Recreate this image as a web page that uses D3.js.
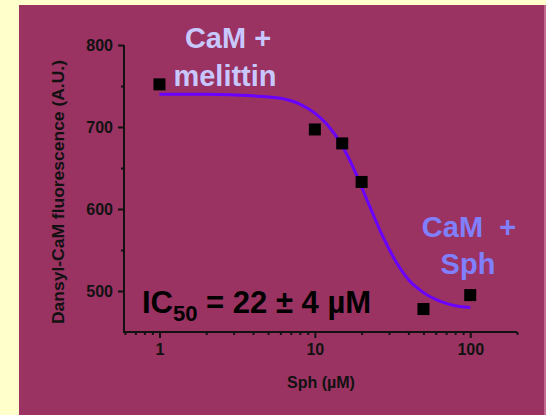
<!DOCTYPE html>
<html>
<head>
<meta charset="utf-8">
<script src="https://cdn.jsdelivr.net/npm/d3@7"></script>
<style>
  html, body { margin: 0; padding: 0; background: #ffffcc; }
  svg { display: block; }
  text { font-family: "Liberation Sans", Arial, sans-serif; font-weight: bold; }
</style>
</head>
<body>
<svg id="chart" width="546" height="415"></svg>
<script>
// Measured dansyl-CaM fluorescence vs. sphingosine concentration
const sphConc = [1, 10, 15, 20, 50, 100];
const fluorescence = [752, 697, 680, 633, 478, 495];

// Fitted dose-response curve (IC50 = 22 µM)
const fitConc = [1, 2, 4, 6, 8, 10, 12, 15, 18, 22, 27, 33, 40, 50, 65, 80, 100];
const fitValue = [740, 740, 738, 735, 728, 717, 703, 677, 647, 608, 569, 537, 514, 498, 487, 482, 480];

const xTickValues = [1, 10, 100];
const yTickValues = [500, 600, 700, 800];

const svg = d3.select("#chart");

// Background panel
svg.append("rect").attr("x", 19).attr("y", 5).attr("width", 525).attr("height", 410)
  .attr("fill", "#9a3362");
svg.append("rect").attr("x", 544).attr("y", 5).attr("width", 2).attr("height", 410)
  .attr("fill", "#c06a90");

const x = d3.scaleLog().domain([0.6, 200]).range([125, 517]);
const y = d3.scaleLinear().domain([450, 800]).range([332, 45]);

const axisColor = "#111";

// X axis with log minor ticks
const xMinor = [];
[0.1, 1, 10, 100].forEach(d => { for (let k = 2; k <= 9; k++) { const v = d * k; if (v >= 0.6 && v <= 200) xMinor.push(v); } });
const gx = svg.append("g").attr("transform", "translate(0,332)");
gx.append("g").call(d3.axisBottom(x).tickValues(xMinor).tickSize(3).tickFormat(""));
gx.append("g").call(d3.axisBottom(x).tickValues(xTickValues).tickSize(6).tickSizeOuter(0).tickPadding(6).tickFormat(d3.format("d")));
gx.selectAll("path.domain").attr("d", `M${x.range()[0] - 1},0H${x.range()[1]}`);
gx.selectAll("path, line").attr("stroke", axisColor).attr("stroke-width", 2);
gx.selectAll("text").attr("fill", axisColor).attr("font-size", 16)
  .attr("font-family", "Liberation Sans, Arial, sans-serif").attr("font-weight", "bold");

// Y axis with minor ticks every 50
const yMinor = [550, 650, 750];
const gy = svg.append("g").attr("transform", "translate(124,0)");
gy.append("g").call(d3.axisLeft(y).tickValues(yMinor).tickSize(3).tickFormat(""));
gy.append("g").call(d3.axisLeft(y).tickValues(yTickValues).tickSize(6).tickSizeOuter(0).tickPadding(5));
gy.selectAll("path.domain").attr("d", `M0,${y(800)}V${y(450) + 1}`);
gy.selectAll("path, line").attr("stroke", axisColor).attr("stroke-width", 2);
gy.selectAll("text").attr("fill", axisColor).attr("font-size", 16)
  .attr("font-family", "Liberation Sans, Arial, sans-serif").attr("font-weight", "bold");

// Axis titles
svg.append("text").attr("x", 321).attr("y", 388).attr("text-anchor", "middle")
  .attr("font-size", 16).attr("fill", axisColor).text("Sph (µM)");
svg.append("text").attr("transform", "translate(64,192) rotate(-90)").attr("text-anchor", "middle")
  .attr("font-size", 16).attr("textLength", 264).attr("lengthAdjust", "spacingAndGlyphs")
  .attr("fill", axisColor).text("Dansyl-CaM fluorescence (A.U.)");

// Fit curve
const line = d3.line().x((d, i) => x(fitConc[i])).y(d => y(d)).curve(d3.curveMonotoneX);
svg.append("path").datum(fitValue).attr("d", line)
  .attr("fill", "none").attr("stroke", "#6a00ff").attr("stroke-width", 3);

// Data points
const s = 12;
svg.selectAll("rect.pt").data(fluorescence).enter().append("rect").attr("class", "pt")
  .attr("x", (d, i) => x(sphConc[i]) - s / 2).attr("y", d => y(d) - s / 2)
  .attr("width", s).attr("height", s).attr("fill", "#000");

// Annotations
const melittinLabel = svg.append("text").attr("fill", "#c8c8ff").attr("font-size", 29).attr("text-anchor", "middle");
melittinLabel.append("tspan").attr("x", 228).attr("y", 48).text("CaM +");
melittinLabel.append("tspan").attr("x", 225).attr("y", 86).text("melittin");

const sphLabel = svg.append("text").attr("fill", "#8080ff").attr("font-size", 29).attr("text-anchor", "middle");
sphLabel.append("tspan").attr("x", 469).attr("y", 237).attr("xml:space", "preserve").text("CaM  +");
sphLabel.append("tspan").attr("x", 468).attr("y", 274).text("Sph");

const icLabel = svg.append("text").attr("x", 142).attr("y", 313).attr("fill", "#000").attr("font-size", 31);
icLabel.append("tspan").text("IC");
icLabel.append("tspan").attr("font-size", 22).attr("dy", 8).text("50");
icLabel.append("tspan").attr("dy", -8).text(" = 22 ± 4 µM");
</script>
</body>
</html>
